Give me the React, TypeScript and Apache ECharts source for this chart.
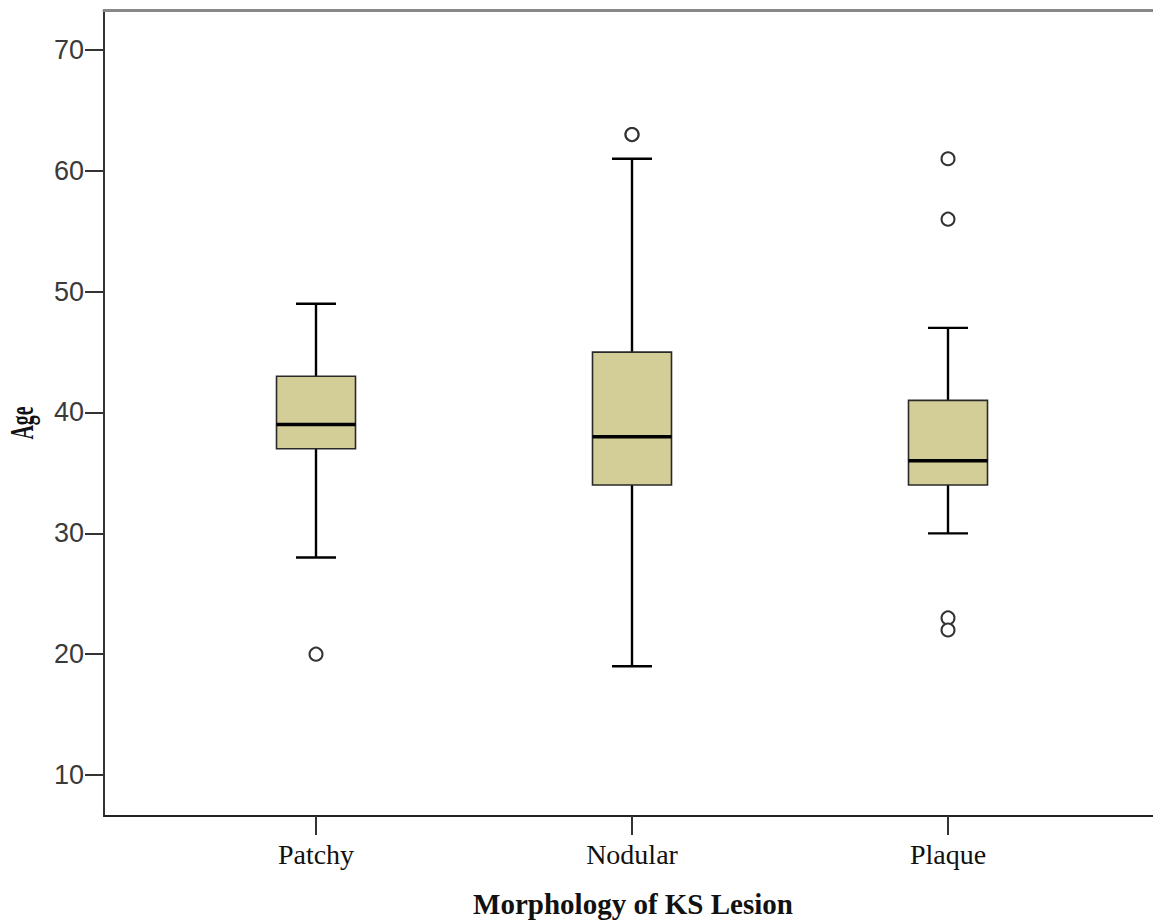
import React, { useEffect, useRef } from "react";
import * as echarts from "echarts";

// Lesion morphology groups and their age summaries (years)
const categories = ["Patchy", "Nodular", "Plaque"];
const whiskerLow = [28, 19, 30];
const quartile1 = [37, 34, 34];
const medians = [39, 38, 36];
const quartile3 = [43, 45, 41];
const whiskerHigh = [49, 61, 47];
const outliers: number[][] = [[20], [63, 63], [61, 56, 23, 22]];
const yTicks = [10, 20, 30, 40, 50, 60, 70];

const BOX_WIDTH = 79;
const CAP_WIDTH = 40;

export default function App() {
  const ref = useRef<HTMLDivElement>(null);

  useEffect(() => {
    if (!ref.current) return;
    document.documentElement.style.overflow = "hidden";
    document.body.style.margin = "0";
    document.body.style.overflow = "hidden";
    const chart = echarts.init(ref.current, undefined, { renderer: "svg" });

    const boxRows = categories.map((_, i) => [
      i + 1,
      whiskerLow[i],
      quartile1[i],
      medians[i],
      quartile3[i],
      whiskerHigh[i],
    ]);
    const outlierPoints: number[][] = [];
    outliers.forEach((vals, i) => vals.forEach((v) => outlierPoints.push([i + 1, v])));

    // plot frame runs past the right edge of the canvas
    const xMin = 0.3291;
    const xMax = 3.6962;

    const renderBox = (params: any, api: any) => {
      const x = api.value(0);
      const lo = api.coord([x, api.value(1)]);
      const q1 = api.coord([x, api.value(2)]);
      const med = api.coord([x, api.value(3)]);
      const q3 = api.coord([x, api.value(4)]);
      const hi = api.coord([x, api.value(5)]);
      const cx = lo[0];
      const hb = BOX_WIDTH / 2;
      const hc = CAP_WIDTH / 2;
      const whisker = { stroke: "#000", lineWidth: 2.4 };
      return {
        type: "group",
        children: [
          { type: "line", shape: { x1: cx, y1: q3[1], x2: cx, y2: hi[1] }, style: whisker },
          { type: "line", shape: { x1: cx - hc, y1: hi[1], x2: cx + hc, y2: hi[1] }, style: whisker },
          { type: "line", shape: { x1: cx, y1: q1[1], x2: cx, y2: lo[1] }, style: whisker },
          { type: "line", shape: { x1: cx - hc, y1: lo[1], x2: cx + hc, y2: lo[1] }, style: whisker },
          {
            type: "rect",
            shape: { x: cx - hb, y: q3[1], width: BOX_WIDTH, height: q1[1] - q3[1] },
            style: { fill: "#D3CE97", stroke: "#2a2a2a", lineWidth: 1.6 },
          },
          {
            type: "line",
            shape: { x1: cx - hb, y1: med[1], x2: cx + hb, y2: med[1] },
            style: { stroke: "#000", lineWidth: 3.5 },
          },
        ],
      };
    };

    chart.setOption({
      animation: false,
      backgroundColor: "#fff",
      grid: { left: 104, top: 10, width: 1064, height: 806, outerBoundsMode: "none" },
      xAxis: [
        {
          type: "value",
          min: xMin,
          max: xMax,
          position: "bottom",
          splitLine: { show: false },
          axisLine: { show: true, lineStyle: { color: "#222", width: 2 } },
          axisTick: {
            show: true,
            customValues: [1, 2, 3],
            length: 19,
            lineStyle: { color: "#333", width: 2 },
          },
          axisLabel: {
            customValues: [1, 2, 3],
            margin: 24,
            fontFamily: "Liberation Serif",
            fontSize: 28,
            color: "#111",
            formatter: (v: number) => categories[Math.round(v) - 1] ?? "",
          },
        },
        {
          type: "value",
          min: xMin,
          max: xMax,
          position: "top",
          splitLine: { show: false },
          axisLine: { show: true, lineStyle: { color: "#888", width: 3 } },
          axisTick: { show: false },
          axisLabel: { show: false },
        },
      ],
      yAxis: {
        type: "value",
        min: 6.607,
        max: 73.31,
        splitLine: { show: false },
        axisLine: { show: true, lineStyle: { color: "#333", width: 2 } },
        axisTick: {
          show: true,
          customValues: yTicks,
          length: 19,
          lineStyle: { color: "#333", width: 2 },
        },
        axisLabel: {
          customValues: yTicks,
          margin: 20,
          fontFamily: "Liberation Sans",
          fontSize: 27,
          color: "#3a3a3a",
        },
      },
      graphic: [
        {
          type: "text",
          x: 22,
          y: 423,
          rotation: Math.PI / 2,
          scaleX: 0.6,
          style: {
            text: "Age",
            fontFamily: "Liberation Serif",
            fontWeight: "bold",
            fontSize: 33,
            fill: "#111",
            textAlign: "center",
            textVerticalAlign: "middle",
          },
        },
        {
          type: "text",
          x: 633,
          y: 904,
          style: {
            text: "Morphology of KS Lesion",
            fontFamily: "Liberation Serif",
            fontWeight: "bold",
            fontSize: 29,
            fill: "#111",
            textAlign: "center",
            textVerticalAlign: "middle",
          },
        },
      ],
      series: [
        {
          type: "custom",
          renderItem: renderBox,
          data: boxRows,
          encode: { x: 0, y: [1, 2, 3, 4, 5] },
          z: 2,
        },
        {
          type: "scatter",
          data: outlierPoints,
          symbol: "circle",
          symbolSize: 13,
          itemStyle: { color: "#fff", borderColor: "#333", borderWidth: 2, opacity: 1 },
          z: 3,
        },
      ],
    });

    return () => chart.dispose();
  }, []);

  return (
    <div
      ref={ref}
      style={{ position: "fixed", left: 0, top: 0, width: 1153, height: 920 }}
    />
  );
}
